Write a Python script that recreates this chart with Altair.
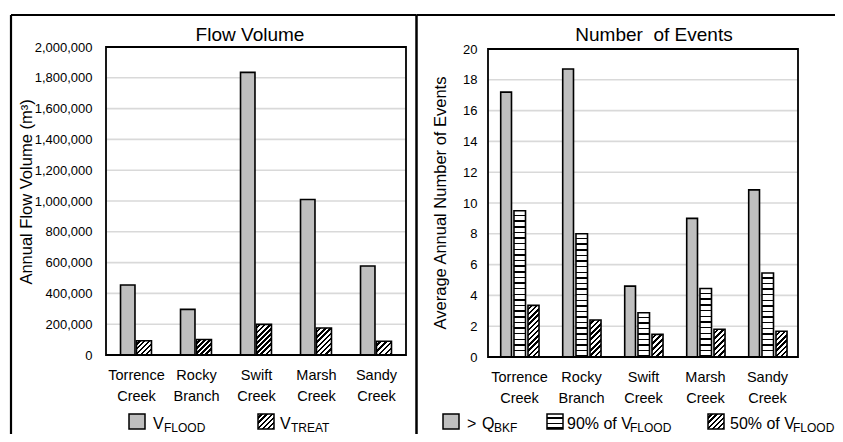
import json
import math
import altair as alt
import pandas as pd

# ---------------- data ----------------
creeks = ["Torrence Creek", "Rocky Branch", "Swift Creek", "Marsh Creek", "Sandy Creek"]
v_flood = [455000, 296000, 1835000, 1010000, 578000]
v_treat = [93000, 101000, 199000, 175000, 89000]
q_bkf = [17.2, 18.7, 4.6, 9.0, 10.85]
p90_flood = [9.5, 8.0, 2.87, 4.45, 5.45]
p50_flood = [3.35, 2.4, 1.47, 1.8, 1.67]

left_ticks = [0, 200000, 400000, 600000, 800000, 1000000, 1200000, 1400000, 1600000, 1800000, 2000000]
right_ticks = [0, 2, 4, 6, 8, 10, 12, 14, 16, 18, 20]
category_centers = [0.5, 1.5, 2.5, 3.5, 4.5]

FONT = "Liberation Sans, Arial, sans-serif"
GREY = "#bfbfbf"

# ---------------- layout (view coordinates = page - 8) ----------------
VW, VH = 827, 426
L_X0, L_X1, L_Y0, L_Y1 = 98, 398, 347, 39     # left plot area
R_X0, R_X1, R_Y0, R_Y1 = 480, 790, 349, 41     # right plot area
LEG_Y = 406                                   # top of legend swatches

# bar slots inside each category band (in category units, relative to band centre)
L_SLOTS = [(-0.258, -0.017), (0.008, 0.258)]
R_SLOTS = [(-0.295, -0.121), (-0.081, 0.105), (0.145, 0.323)]


def hstripe(h, period=5.6, line=1.5):
    n = max(1, round(h / period))
    stops = []
    for i in range(n):
        a, c = i / n, (i + 1) / n
        b = max(a, c - line / max(h, 1))
        stops += [(a, "white"), (b, "white"), (b, "black"), (c, "black")]
    return {"gradient": "linear", "x1": 0, "y1": 0, "x2": 0, "y2": 1,
            "stops": [{"offset": round(o, 5), "color": col} for o, col in stops]}


def diag(w, h, period=3.7, frac=0.47):
    # 45-degree "/" stripes for an objectBoundingBox linear gradient
    k = (w + h) / (w * w + h * h)
    L = (w + h) / math.sqrt(2)
    n = max(1, round(L / period))
    stops = []
    for i in range(n):
        a, c = i / n, (i + 1) / n
        b = a + (c - a) * (1 - frac)
        stops += [(a, "white"), (b, "white"), (b, "black"), (c, "black")]
    return {"gradient": "linear", "x1": 0, "y1": 0, "x2": round(k * w, 5), "y2": round(k * h, 5),
            "stops": [{"offset": round(o, 5), "color": col} for o, col in stops]}


def one():
    return alt.Data(values=[{"k": 0}])


def rule(x, y, x2=None, y2=None, w=2.2):
    enc = dict(x=alt.value(x), y=alt.value(y))
    if x2 is not None:
        enc["x2"] = alt.value(x2)
    if y2 is not None:
        enc["y2"] = alt.value(y2)
    return alt.Chart(one()).mark_rule(color="black", strokeWidth=w).encode(**enc)


def text(t, x, y, size, align="left", angle=None):
    kw = dict(text=t, align=align, baseline="alphabetic", font=FONT, fontSize=size, color="black")
    if angle is not None:
        kw["angle"] = angle
    return alt.Chart(one()).mark_text(**kw).encode(x=alt.value(x), y=alt.value(y))


def rect(x, y, w, h, fill):
    return alt.Chart(one()).mark_rect(fill=fill, stroke="black", strokeWidth=1.5).encode(
        x=alt.value(x), x2=alt.value(x + w), y=alt.value(y), y2=alt.value(y + h))


label_expr = "split(" + json.dumps(creeks) + "[round(datum.value - 0.5)], ' ')"


def panel(series_list, fills, ticks, ymax, x0, x1, y0, y1, slots, ypad, fmt, xpad):
    step = (x1 - x0) / 5
    X = alt.X("x0:Q", scale=alt.Scale(domain=[0, 5], range=[x0, x1], nice=False, zero=False),
              axis=alt.Axis(title=None, values=category_centers, labelExpr=label_expr, orient="bottom",
                            offset=y0 - VH, labelFont=FONT, labelFontSize=14.5, labelLineHeight=21,
                            labelPadding=xpad, labelColor="black", labelAngle=0, labelBaseline="top",
                            domain=False, ticks=False, grid=False))
    X2 = alt.X2("x1")
    Y = alt.Y("value:Q", scale=alt.Scale(domain=[0, ymax], range=[y0, y1], nice=False),
              axis=alt.Axis(title=None, values=ticks, format=fmt, orient="left", offset=-x0,
                            labelFont=FONT, labelFontSize=13, labelColor="black", labelPadding=ypad,
                            domain=False, ticks=False, grid=False))
    Y2 = alt.Y2("base")

    grid = pd.DataFrame({"x0": [0] * len(ticks), "x1": [5] * len(ticks), "value": ticks})
    layers = [alt.Chart(grid).mark_rule(color="#d9d9d9", strokeWidth=1.6)
              .encode(x=X, x2=X2, y=Y)]

    for s, (vals, fill) in enumerate(zip(series_list, fills)):
        lo, hi = slots[s]
        for i, v in enumerate(vals):
            row = pd.DataFrame({"x0": [i + 0.5 + lo], "x1": [i + 0.5 + hi], "value": [v], "base": [0]})
            w = (hi - lo) * step
            h = v / ymax * (y0 - y1)
            if fill == "grey":
                f = GREY
            elif fill == "hstripe":
                f = hstripe(h)
            else:
                f = diag(w, h)
            layers.append(alt.Chart(row).mark_bar(fill=f, stroke="black", strokeWidth=1.6)
                          .encode(x=X, x2=X2, y=Y, y2=Y2))

    frame = pd.DataFrame({"x0": [0], "x1": [5], "value": [ymax], "base": [0]})
    layers.append(alt.Chart(frame).mark_rect(fill="transparent", stroke="black", strokeWidth=1.8)
                  .encode(x=X, x2=X2, y=Y, y2=Y2))
    return layers


tb = LEG_Y + 15   # legend main-text baseline
sb = tb + 3       # legend subscript baseline

left_layers = panel([v_flood, v_treat], ["grey", "diag"], left_ticks, 2000000,
                    L_X0, L_X1, L_Y0, L_Y1, L_SLOTS, 14, ",d", 13)
left_layers += [
    rule(3, 7, x2=408.5),
    rule(3, 7, y2=VH),
    rule(408.5, 7, y2=VH, w=2.5),
    text("Flow Volume", 242, 33, 19, align="center"),
    text("Annual Flow Volume (m³)", 24, 184, 16.5, align="center", angle=270),
    rect(121, LEG_Y, 16, 15, GREY),
    text("V", 145, tb, 16),
    text("FLOOD", 156, sb, 12),
    rect(250, LEG_Y, 16, 15, diag(16, 15)),
    text("V", 272, tb, 16),
    text("TREAT", 283, sb, 12),
]

right_layers = panel([q_bkf, p90_flood, p50_flood], ["grey", "hstripe", "diag"], right_ticks, 20,
                     R_X0, R_X1, R_Y0, R_Y1, R_SLOTS, 11, "d", 13)
right_layers += [
    rule(408.5, 7, x2=VW),
    text("Number\u00a0 of Events", 646, 33, 19, align="center"),
    text("Average Annual Number of Events", 438, 195, 16.5, align="center", angle=270),
    rect(435, LEG_Y, 16, 15, GREY),
    text(">", 459, tb, 16),
    text("Q", 474, tb, 16),
    text("BKF", 486, sb, 12),
    rect(539, LEG_Y, 16, 15, hstripe(15, period=5, line=1.5)),
    text("90% of V", 559, tb, 16),
    text("FLOOD", 622, sb, 12),
    rect(700, LEG_Y, 16, 15, diag(16, 15)),
    text("50% of V", 722, tb, 16),
    text("FLOOD", 785, sb, 12),
]

left = alt.layer(*left_layers)
right = alt.layer(*right_layers)

chart = (
    alt.layer(left, right)
    .resolve_scale(x="independent", y="independent")
    .properties(width=VW, height=VH, padding=0, autosize=alt.AutoSizeParams(type="none"))
    .configure_view(stroke=None)
)

chart.save("out.html", embed_options={"renderer": "svg", "actions": False})
